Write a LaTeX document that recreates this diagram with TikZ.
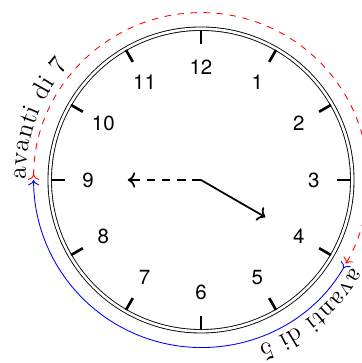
\documentclass[tikz,border=0pt]{standalone}
\usepackage{fontspec}
\newfontfamily\clockfont{TeX Gyre Heros}
\usetikzlibrary{arrows.meta, decorations.text}

\begin{document}
\begin{tikzpicture}
        \useasboundingbox (-3.242,-2.952) rectangle (2.581,2.903); %余白
        \coordinate (O) at (0,0); %中心
        \draw[double, double distance=1.2pt](O) circle (2.44); %文字盤
        \foreach \h in {1,...,12}{
            \draw[line width=1.2pt]({90-30*\h}:2.42)--({90-30*\h}:2.2); %目盛り
            \node[font=\clockfont\fontsize{9.4}{11}\selectfont] (n\h) at ({90-30*\h}:1.82) {\h}; %数字
        }
        \coordinate (hour) at (-30:1.2);
        \coordinate (minute) at (180:1.18);
        \draw[->, thick](O)--(hour); %短針
        \draw[->, thick, dash pattern=on 4pt off 3pt](O)--(minute); %長針

        \draw[red, dashed, >->](180:2.7) arc[start angle=180, end angle=-30, radius=2.7]; %7時間
        \draw[blue, >->](-30:2.7) arc[start angle=-30, end angle=-180, radius=2.7]; %5時間
        \path[decorate, decoration={text along path, raise=3.6pt, text={|\fontsize{11.8}{14}\selectfont|avanti di 7}}](180:2.7) arc[start angle=180, end angle=60, radius=2.7];
        \path[decorate, decoration={text along path, raise=3.6pt, text={|\fontsize{11.8}{14}\selectfont|avanti di 5}}](-30:2.7) arc[start angle=-30, end angle=-150, radius=2.7];
    \end{tikzpicture}
\end{document}
